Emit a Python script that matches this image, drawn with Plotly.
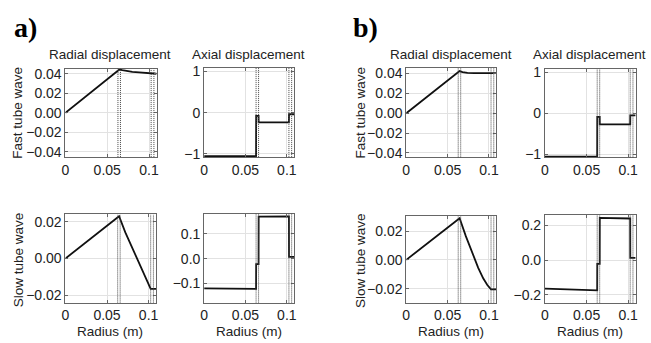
import plotly.graph_objects as go

W, H = 651, 343

# ---------------- data ----------------
# Panel a) fast tube wave
a_rad_fast_x = [0, 0.0635, 0.0645, 0.068, 0.073, 0.080, 0.088, 0.096, 0.1025, 0.106, 0.109]
a_rad_fast_y = [0, 0.0438, 0.0445, 0.0438, 0.0430, 0.0422, 0.0416, 0.0413, 0.0412, 0.0408, 0.0402]
a_ax_fast_x = [0, 0.0628, 0.0629, 0.0658, 0.0659, 0.1025, 0.1026, 0.109]
a_ax_fast_y = [-1.055, -1.055, -0.08, -0.08, -0.235, -0.235, -0.04, -0.04]
# Panel a) slow tube wave
a_rad_slow_x = [0, 0.0645, 0.072, 0.081, 0.093, 0.1025, 0.109]
a_rad_slow_y = [0, 0.0230, 0.0142, 0.0052, -0.0075, -0.0165, -0.0165]
a_ax_slow_x = [0, 0.0628, 0.0629, 0.0658, 0.0659, 0.1025, 0.1026, 0.109]
a_ax_slow_y = [-0.120, -0.122, -0.022, -0.022, 0.169, 0.170, 0.007, 0.007]
# Panel b) fast tube wave
b_rad_fast_x = [0, 0.0645, 0.068, 0.074, 0.082, 0.092, 0.1015, 0.105, 0.109]
b_rad_fast_y = [0, 0.0425, 0.0415, 0.0406, 0.0404, 0.0404, 0.0407, 0.0408, 0.0404]
b_ax_fast_x = [0, 0.0628, 0.0629, 0.0658, 0.0659, 0.1025, 0.1026, 0.109]
b_ax_fast_y = [-1.06, -1.06, -0.09, -0.09, -0.27, -0.27, -0.05, -0.05]
# Panel b) slow tube wave
b_rad_slow_x = [0, 0.0645, 0.072, 0.081, 0.087, 0.093, 0.098, 0.1025, 0.109]
b_rad_slow_y = [0, 0.0290, 0.0165, 0.0030, -0.0055, -0.0128, -0.0175, -0.0205, -0.0205]
b_ax_slow_x = [0, 0.0628, 0.0629, 0.0658, 0.0659, 0.1025, 0.1026, 0.109]
b_ax_slow_y = [-0.165, -0.175, -0.022, -0.022, 0.243, 0.240, 0.012, 0.012]

# interfaces (dotted vertical lines)
interfaces = [0.0628, 0.0658, 0.1025, 0.1058]

x_ticks = [0, 0.05, 0.1]
x_tick_text = ["0", "0.05", "0.1"]

panels = [
    # (x, y, xpix, ypix, yrange, yticks, yfmt)
    (a_rad_fast_x, a_rad_fast_y, (62, 154), (65.5, 156.5), [-0.0455, 0.0455], [-0.04, -0.02, 0, 0.02, 0.04], ".2f"),
    (a_ax_fast_x, a_ax_fast_y, (202, 293), (65, 156.7), [-1.08, 1.08], [-1, 0, 1], "d"),
    (b_rad_fast_x, b_rad_fast_y, (406, 497), (65, 157), [-0.0445, 0.0455], [-0.04, -0.02, 0, 0.02, 0.04], ".2f"),
    (b_ax_fast_x, b_ax_fast_y, (546, 637.5), (66, 157), [-1.08, 1.08], [-1, 0, 1], "d"),
    (a_rad_slow_x, a_rad_slow_y, (62, 153.5), (215.7, 306.5), [-0.024, 0.024], [-0.02, 0, 0.02], ".2f"),
    (a_ax_slow_x, a_ax_slow_y, (202, 293), (215, 306.5), [-0.177, 0.181], [-0.1, 0, 0.1], ".1f"),
    (b_rad_slow_x, b_rad_slow_y, (406, 497), (217.5, 306.5), [-0.0297, 0.0304], [-0.02, 0, 0.02], ".2f"),
    (b_ax_slow_x, b_ax_slow_y, (546, 637.5), (216.7, 306.5), [-0.246, 0.258], [-0.2, 0, 0.2], ".1f"),
]

fig = go.Figure()
layout = dict(
    width=W, height=H,
    margin=dict(l=0, r=0, t=0, b=0),
    paper_bgcolor="white", plot_bgcolor="white",
    showlegend=False,
    font=dict(family="Liberation Sans, Arial, sans-serif", size=13, color="#222"),
)
shapes = []
axis_common = dict(
    showline=True, mirror="ticks", linecolor="#666", linewidth=1,
    showgrid=True, gridcolor="#e2e2e2", gridwidth=1,
    ticks="inside", ticklen=3, tickcolor="#666",
    zeroline=False, tickfont=dict(size=14, color="#222"),
)
for i, (xs, ys, xp, yp, yr, yt, yf) in enumerate(panels, start=1):
    xa = "xaxis" if i == 1 else f"xaxis{i}"
    ya = "yaxis" if i == 1 else f"yaxis{i}"
    xref = "x" if i == 1 else f"x{i}"
    yref = "y" if i == 1 else f"y{i}"
    layout[xa] = dict(axis_common, domain=[xp[0] / W, xp[1] / W], range=[0, 0.109],
                      anchor=yref, tickvals=x_ticks, ticktext=x_tick_text)
    layout[ya] = dict(axis_common, domain=[1 - yp[1] / H, 1 - yp[0] / H], range=yr,
                      anchor=xref, tickvals=yt, tickformat=yf)
    for xv in interfaces:
        shapes.append(dict(type="line", xref=xref, yref=f"{yref} domain",
                           x0=xv, x1=xv, y0=0, y1=1,
                           line=dict(color="#444", width=1, dash="1px,1px")))
    fig.add_trace(go.Scatter(x=xs, y=ys, mode="lines", xaxis=xref, yaxis=yref,
                             line=dict(color="#111", width=1.8)))

annotations = []
def ann(text, xpx, ypx, size=13, angle=0, bold=False, family=None):
    d = dict(text=text, x=xpx / W, y=1 - ypx / H, xref="paper", yref="paper",
             showarrow=False, textangle=angle, xanchor="center", yanchor="middle",
             font=dict(size=size, color="#222" if not bold else "black"))
    if family:
        d["font"]["family"] = family
    annotations.append(d)

ann("<b>a)</b>", 22, 23, size=28, bold=True, family="Liberation Serif, Times New Roman, serif")
ann("<b>b)</b>", 365, 23, size=28, bold=True, family="Liberation Serif, Times New Roman, serif")
ann("Radial displacement", 107, 51, size=13.5)
ann("Axial displacement", 247, 51, size=13.5)
ann("Radial displacement", 451, 51, size=13.5)
ann("Axial displacement", 591, 51, size=13.5)
ann("Fast tube wave", 14, 111, size=13.5, angle=-90)
ann("Slow tube wave", 14, 262, size=13.5, angle=-90)
ann("Fast tube wave", 360, 111, size=13.5, angle=-90)
ann("Slow tube wave", 360, 263, size=13.5, angle=-90)
ann("Radius (m)", 107, 336, size=13.5)
ann("Radius (m)", 247, 336, size=13.5)
ann("Radius (m)", 451, 336, size=13.5)
ann("Radius (m)", 591, 336, size=13.5)

layout["shapes"] = shapes
layout["annotations"] = annotations
fig.update_layout(**layout)
fig.write_html("out.html")
